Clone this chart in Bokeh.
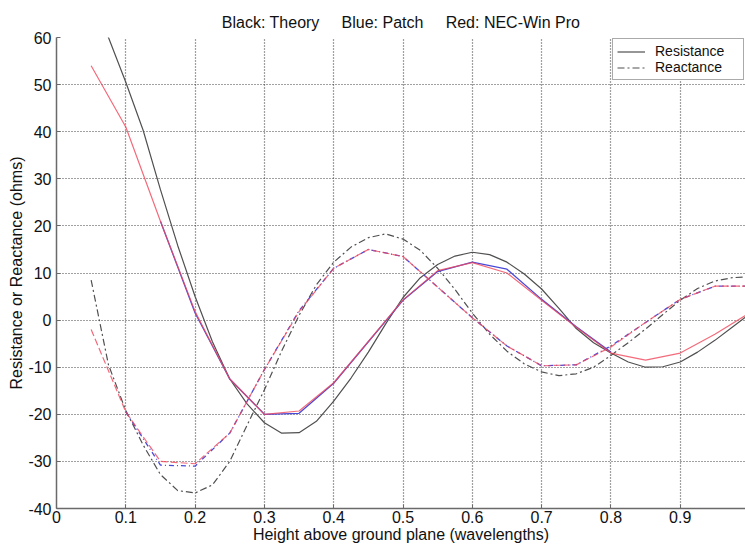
from bokeh.plotting import figure
from bokeh.models import Range1d, FixedTicker, Legend, LegendItem, ColumnDataSource
from bokeh.embed import file_html
from bokeh.resources import INLINE

# Heights above ground plane (wavelengths)
theory_h = [0.05, 0.075, 0.1, 0.125, 0.15, 0.175, 0.2, 0.225, 0.25, 0.275,
            0.3, 0.325, 0.35, 0.375, 0.4, 0.425, 0.45, 0.475, 0.5, 0.525,
            0.55, 0.575, 0.6, 0.625, 0.65, 0.675, 0.7, 0.725, 0.75, 0.775,
            0.8, 0.825, 0.85, 0.875, 0.9, 0.925, 0.95, 0.975, 1.0]
theory_resistance = [70.0, 60.0, 50.5, 40.3, 27.7, 15.8, 5.0, -4.6, -12.5, -17.8,
                     -21.8, -24.0, -23.9, -21.5, -17.2, -12.3, -6.8, -0.8, 4.8, 9.0,
                     11.8, 13.6, 14.4, 13.9, 12.3, 9.8, 6.6, 2.5, -1.8, -4.8,
                     -7.0, -8.9, -10.0, -9.9, -8.9, -6.8, -4.3, -1.5, 1.3]
theory_reactance = [8.5, -9.5, -19.2, -26.5, -32.8, -36.2, -36.7, -35.0, -30.0, -22.3,
                    -14.8, -6.5, 1.0, 7.5, 12.3, 15.5, 17.5, 18.3, 17.2, 14.8,
                    11.0, 6.5, 1.5, -3.0, -6.6, -9.3, -11.0, -11.8, -11.4, -10.0,
                    -7.5, -4.8, -1.9, 1.2, 4.2, 6.7, 8.3, 9.0, 9.2]

# NEC-Win Pro results
nec_h = [0.05, 0.1, 0.15, 0.2, 0.25, 0.3, 0.35, 0.4, 0.45, 0.5,
         0.55, 0.6, 0.65, 0.7, 0.75, 0.8, 0.85, 0.9, 0.95, 1.0]
nec_resistance = [54.0, 41.0, 21.0, 1.8, -12.5, -20.0, -19.3, -13.3, -4.5, 4.3,
                  10.5, 12.2, 10.0, 4.2, -1.5, -7.0, -8.5, -7.0, -3.0, 1.5]
nec_reactance = [-2.0, -19.5, -30.0, -30.5, -24.0, -10.5, 1.8, 11.0, 15.0, 13.5,
                 7.0, 0.5, -5.5, -9.7, -9.5, -5.7, -0.5, 4.4, 7.2, 7.2]

# Patch results
patch_r_h = [0.15, 0.2, 0.25, 0.3, 0.35, 0.4, 0.45, 0.5, 0.55, 0.6, 0.65, 0.7, 0.75, 0.8]
patch_resistance = [21.0, 1.5, -12.5, -20.0, -19.8, -13.4, -4.6, 4.2, 10.3, 12.3, 10.8, 4.4, -1.4, -6.8]
patch_x_h = [0.1, 0.15, 0.2, 0.25, 0.3, 0.35, 0.4, 0.45, 0.5, 0.55,
             0.6, 0.65, 0.7, 0.75, 0.8, 0.85, 0.9, 0.95, 1.0]
patch_reactance = [-19.5, -30.8, -31.0, -24.0, -10.5, 2.0, 11.0, 15.0, 13.5, 7.0,
                   0.5, -5.5, -9.7, -9.5, -5.5, -0.5, 4.4, 7.2, 7.2]

x_ticks = [0, 0.1, 0.2, 0.3, 0.4, 0.5, 0.6, 0.7, 0.8, 0.9]
x_tick_labels = ["0", "0.1", "0.2", "0.3", "0.4", "0.5", "0.6", "0.7", "0.8", "0.9"]
y_ticks = [-40, -30, -20, -10, 0, 10, 20, 30, 40, 50, 60]
y_tick_labels = ["-40", "-30", "-20", "-10", "0", "10", "20", "30", "40", "50", "60"]

FONT = "Liberation Sans"
GAP = "\u00a0" * 5
title_text = "Black: Theory" + GAP + "Blue: Patch" + GAP + "Red: NEC-Win Pro"

p = figure(width=745, height=547, output_backend="svg", toolbar_location=None,
           x_range=Range1d(0, 0.9942), y_range=Range1d(-40, 60),
           min_border_left=56, min_border_right=0, min_border_top=37, min_border_bottom=39,
           title=title_text)
p.background_fill_color = "white"
p.border_fill_color = "white"
p.outline_line_color = None

p.title.align = "center"
p.title.vertical_align = "top"
p.title.text_font = FONT
p.title.text_font_size = "16px"
p.title.text_font_style = "normal"
p.title.text_color = "#111111"
p.title.standoff = 10

# axes
for ax in (p.xaxis[0], p.yaxis[0]):
    ax.axis_line_color = "#6a6a6a"
    ax.axis_line_width = 1.5
    ax.major_tick_in = 4
    ax.major_tick_out = 0
    ax.major_tick_line_color = "#6a6a6a"
    ax.minor_tick_line_color = None
    ax.major_label_text_font = FONT
    ax.major_label_text_font_size = "16px"
    ax.major_label_text_color = "#111111"
    ax.axis_label_text_font = FONT
    ax.axis_label_text_font_size = "16px"
    ax.axis_label_text_font_style = "normal"
    ax.axis_label_text_color = "#111111"

p.xaxis.ticker = FixedTicker(ticks=x_ticks)
p.xaxis.major_label_overrides = dict(zip(x_ticks, x_tick_labels))
p.yaxis.ticker = FixedTicker(ticks=y_ticks)
p.yaxis.major_label_overrides = dict(zip(y_ticks, y_tick_labels))
p.xaxis.axis_label = "Height above ground plane (wavelengths)"
p.yaxis.axis_label = "Resistance or Reactance (ohms)"
p.xaxis.major_label_standoff = 2
p.xaxis.axis_label_standoff = 0
p.yaxis.major_label_standoff = 5
p.yaxis.axis_label_standoff = 0

# dotted grid
for g in (p.xgrid[0], p.ygrid[0]):
    g.grid_line_color = "#222222"
    g.grid_line_dash = "1 2"
    g.grid_line_width = 1.2
    g.grid_line_alpha = 0.85
p.xgrid.ticker = FixedTicker(ticks=x_ticks)
p.ygrid.ticker = FixedTicker(ticks=y_ticks)

THEORY = "#505050"
BLUE = "#4a4ad8"
RED = "#f0465a"

theory_src = ColumnDataSource(dict(h=theory_h, r=theory_resistance, x=theory_reactance))
r_theory = p.line("h", "r", source=theory_src, color=THEORY, line_width=1.2)
x_theory = p.line("h", "x", source=theory_src, color=THEORY, line_width=1.2, line_dash="7 3 2 3")

p.line(patch_r_h, patch_resistance, color=BLUE, line_width=1.3)
p.line(patch_x_h, patch_reactance, color=BLUE, line_width=1.3, line_dash="5 3 1 3")

nec_src = ColumnDataSource(dict(h=nec_h, r=nec_resistance, x=nec_reactance))
p.line("h", "r", source=nec_src, color=RED, line_width=1.2, line_alpha=0.8)
p.line("h", "x", source=nec_src, color=RED, line_width=1.2, line_alpha=0.8, line_dash="7 3")

legend = Legend(items=[LegendItem(label="Resistance", renderers=[r_theory]),
                       LegendItem(label="Reactance", renderers=[x_theory])],
                location=(556, 428))
legend.label_text_font = FONT
legend.label_text_font_size = "14px"
legend.label_text_color = "#111111"
legend.label_height = 15
legend.glyph_height = 15
legend.glyph_width = 28
legend.label_standoff = 10
legend.label_width = 84
legend.spacing = 0
legend.padding = 4
legend.margin = 0
legend.border_line_color = "#555555"
legend.border_line_width = 1
legend.background_fill_color = "white"
legend.background_fill_alpha = 1
p.add_layout(legend, "center")

open("out.html", "w").write(file_html(p, INLINE))
